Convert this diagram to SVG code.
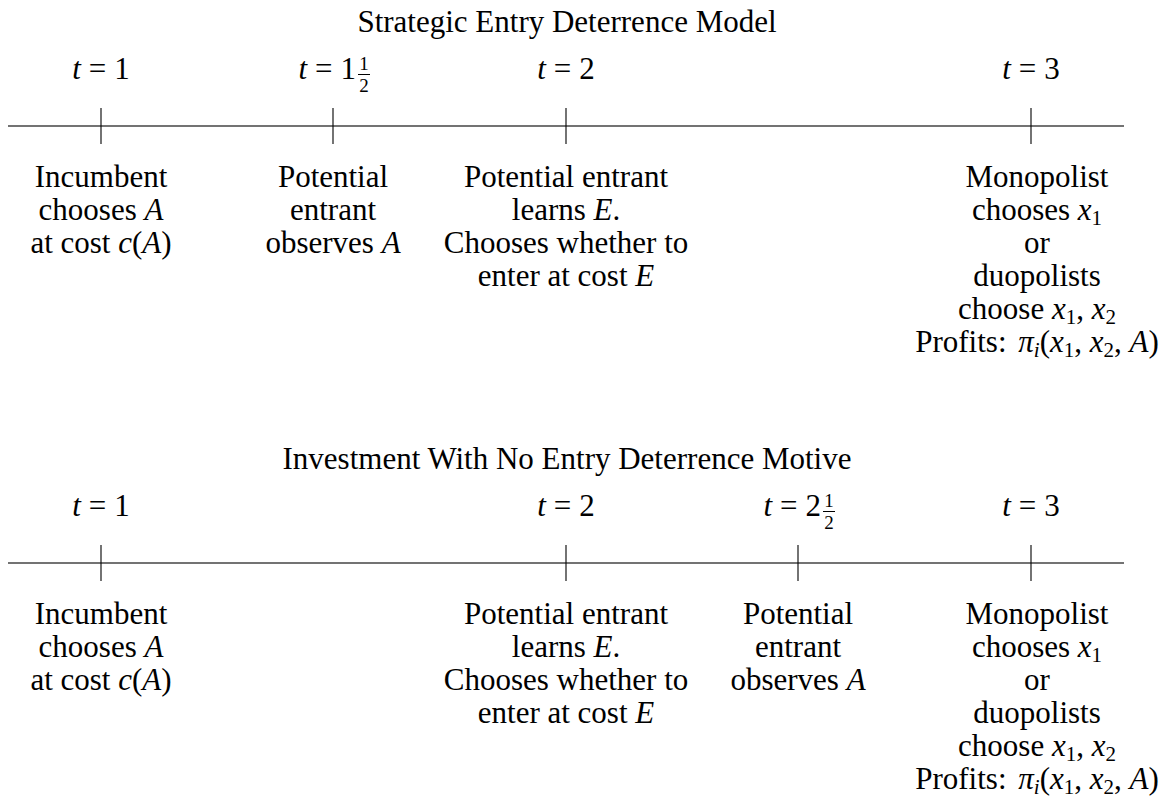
<svg xmlns="http://www.w3.org/2000/svg" width="1172" height="799" viewBox="0 0 1172 799">
<style>
text{font-family:"Liberation Serif","Times New Roman",serif;font-size:31px;fill:#000;text-anchor:middle}
.i{font-style:italic}
.s{font-size:21px}
.fr{font-size:19px;text-anchor:middle}
.e{text-anchor:end}
.ax{stroke:#444;stroke-width:1.4}
.tk{stroke:#000;stroke-width:1.1}
.bar{stroke:#000;stroke-width:1}
</style>
<rect width="1172" height="799" fill="#fff"/>
<g id="connectors">
<line class="ax" x1="8" y1="126" x2="1124" y2="126"/>
<line class="tk" x1="101" y1="108" x2="101" y2="144"/>
<line class="tk" x1="333" y1="108" x2="333" y2="144"/>
<line class="tk" x1="566" y1="108" x2="566" y2="144"/>
<line class="tk" x1="1031" y1="108" x2="1031" y2="144"/>
<line class="ax" x1="8" y1="563" x2="1124" y2="563"/>
<line class="tk" x1="101" y1="545" x2="101" y2="581"/>
<line class="tk" x1="566" y1="545" x2="566" y2="581"/>
<line class="tk" x1="798" y1="545" x2="798" y2="581"/>
<line class="tk" x1="1031" y1="545" x2="1031" y2="581"/>
</g>
<g id="title-top"><text x="567" y="32">Strategic Entry Deterrence Model</text></g>
<g id="t1-top"><text x="101" y="79"><tspan class="i">t</tspan><tspan dx="8">=</tspan><tspan dx="8">1</tspan></text></g>
<g id="t15-top"><text class="e" x="356" y="79"><tspan class="i">t</tspan><tspan dx="8">=</tspan><tspan dx="8">1</tspan></text>
<text class="fr" x="364" y="70">1</text><line class="bar" x1="358" y1="74.5" x2="370" y2="74.5"/><text class="fr" x="364" y="92">2</text></g>
<g id="t2-top"><text x="566" y="79"><tspan class="i">t</tspan><tspan dx="8">=</tspan><tspan dx="8">2</tspan></text></g>
<g id="t3-top"><text x="1031" y="79"><tspan class="i">t</tspan><tspan dx="8">=</tspan><tspan dx="8">3</tspan></text></g>
<g id="n1-top"><text x="101" y="187">Incumbent</text><text x="101" y="220">chooses <tspan class="i">A</tspan></text><text x="101" y="253">at cost <tspan class="i">c</tspan>(<tspan class="i">A</tspan>)</text></g>
<g id="n15-top"><text x="333" y="187">Potential</text><text x="333" y="220">entrant</text><text x="333" y="253">observes <tspan class="i">A</tspan></text></g>
<g id="n2-top"><text x="566" y="187">Potential entrant</text><text x="566" y="220">learns <tspan class="i">E</tspan>.</text><text x="566" y="253">Chooses whether to</text><text x="566" y="286">enter at cost <tspan class="i">E</tspan></text></g>
<g id="n3-top"><text x="1037" y="187">Monopolist</text><text x="1037" y="220">chooses <tspan class="i">x</tspan><tspan class="s" dy="5">1</tspan></text><text x="1037" y="253">or</text><text x="1037" y="286">duopolists</text><text x="1037" y="319">choose <tspan class="i">x</tspan><tspan class="s" dy="5">1</tspan><tspan dy="-5">, </tspan><tspan class="i">x</tspan><tspan class="s" dy="5">2</tspan></text><text x="1037" y="352">Profits: <tspan class="i" dx="4">π</tspan><tspan class="s i" dy="5">i</tspan><tspan dy="-5">(</tspan><tspan class="i">x</tspan><tspan class="s" dy="5">1</tspan><tspan dy="-5">, </tspan><tspan class="i">x</tspan><tspan class="s" dy="5">2</tspan><tspan dy="-5">, </tspan><tspan class="i">A</tspan>)</text></g>
<g id="title-bot"><text x="567" y="469">Investment With No Entry Deterrence Motive</text></g>
<g id="t1-bot"><text x="101" y="516"><tspan class="i">t</tspan><tspan dx="8">=</tspan><tspan dx="8">1</tspan></text></g>
<g id="t2-bot"><text x="566" y="516"><tspan class="i">t</tspan><tspan dx="8">=</tspan><tspan dx="8">2</tspan></text></g>
<g id="t25-bot"><text class="e" x="821" y="516"><tspan class="i">t</tspan><tspan dx="8">=</tspan><tspan dx="8">2</tspan></text>
<text class="fr" x="829" y="507">1</text><line class="bar" x1="823" y1="511.5" x2="835" y2="511.5"/><text class="fr" x="829" y="529">2</text></g>
<g id="t3-bot"><text x="1031" y="516"><tspan class="i">t</tspan><tspan dx="8">=</tspan><tspan dx="8">3</tspan></text></g>
<g id="n1-bot"><text x="101" y="624">Incumbent</text><text x="101" y="657">chooses <tspan class="i">A</tspan></text><text x="101" y="690">at cost <tspan class="i">c</tspan>(<tspan class="i">A</tspan>)</text></g>
<g id="n2-bot"><text x="566" y="624">Potential entrant</text><text x="566" y="657">learns <tspan class="i">E</tspan>.</text><text x="566" y="690">Chooses whether to</text><text x="566" y="723">enter at cost <tspan class="i">E</tspan></text></g>
<g id="n25-bot"><text x="798" y="624">Potential</text><text x="798" y="657">entrant</text><text x="798" y="690">observes <tspan class="i">A</tspan></text></g>
<g id="n3-bot"><text x="1037" y="624">Monopolist</text><text x="1037" y="657">chooses <tspan class="i">x</tspan><tspan class="s" dy="5">1</tspan></text><text x="1037" y="690">or</text><text x="1037" y="723">duopolists</text><text x="1037" y="756">choose <tspan class="i">x</tspan><tspan class="s" dy="5">1</tspan><tspan dy="-5">, </tspan><tspan class="i">x</tspan><tspan class="s" dy="5">2</tspan></text><text x="1037" y="789">Profits: <tspan class="i" dx="4">π</tspan><tspan class="s i" dy="5">i</tspan><tspan dy="-5">(</tspan><tspan class="i">x</tspan><tspan class="s" dy="5">1</tspan><tspan dy="-5">, </tspan><tspan class="i">x</tspan><tspan class="s" dy="5">2</tspan><tspan dy="-5">, </tspan><tspan class="i">A</tspan>)</text></g>
</svg>
